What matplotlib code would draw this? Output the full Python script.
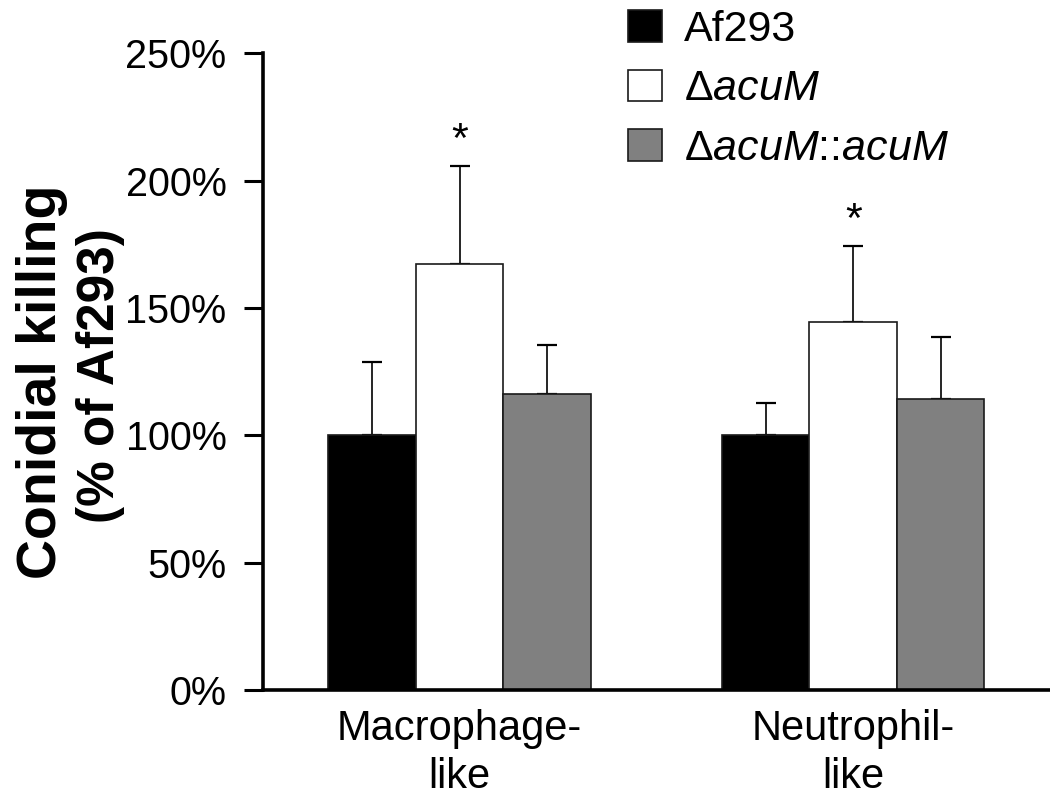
import matplotlib
matplotlib.use("Agg")
import matplotlib.pyplot as plt
import numpy as np

plt.rcParams['font.family'] = ['Liberation Sans', 'DejaVu Sans']
plt.rcParams['mathtext.fontset'] = 'custom'
plt.rcParams['mathtext.rm'] = 'Liberation Sans'
plt.rcParams['mathtext.it'] = 'Liberation Sans:italic'
plt.rcParams['mathtext.bf'] = 'Liberation Sans:bold'

categories = ["Macrophage-\nlike", "Neutrophil-\nlike"]
series_names = ["Af293", r"Δ$\mathit{acuM}$", r"Δ$\mathit{acuM}$::$\mathit{acuM}$"]
af293 = [100.0, 100.0]
af293_err = [28.9, 12.6]
acum = [167.3, 144.5]
acum_err = [38.4, 29.8]
comp = [116.2, 114.3]
comp_err = [19.4, 24.3]
significant = [False, True, False]  # asterisk on ΔacuM series
colors = ["#000000", "#ffffff", "#808080"]
yticks = [0, 50, 100, 150, 200, 250]
ytick_labels = ["0%", "50%", "100%", "150%", "200%", "250%"]

W, H = 1050, 799
fig = plt.figure(figsize=(W / 100, H / 100), dpi=100)
ax = fig.add_axes([262.7 / W, (H - 690) / H, 1 - 262.7 / W, (690 - 53.3) / H])

x = np.arange(len(categories))
bw = 1 / 4.5
vals = [af293, acum, comp]
errs = [af293_err, acum_err, comp_err]
handles = []
for i, (v, e, c) in enumerate(zip(vals, errs, colors)):
    pos = x + (i - 1) * bw
    b = ax.bar(pos, v, width=bw, color=c, edgecolor="#1a1a1a", linewidth=1.2,
               label=series_names[i], zorder=2)
    ax.errorbar(pos, v, yerr=[np.zeros(len(e)), e], fmt="none", ecolor="black",
                elinewidth=1.2, capsize=7, capthick=1.6, zorder=1)
    handles.append(b)
    if significant[i]:
        for p, vv, ee in zip(pos, v, e):
            ax.text(p, vv + ee + 10, "*", ha="center", va="center", fontsize=31)

ax.set_xlim(-0.5, 1.5)
ax.set_ylim(0, 250)
ax.set_yticks(yticks)
ax.set_yticklabels(ytick_labels, fontsize=28.5)
ax.set_xticks(x)
ax.set_xticklabels(categories, fontsize=30, linespacing=1.25)
ax.tick_params(axis="y", direction="out", length=14, width=2.2, pad=12)
ax.tick_params(axis="x", length=0, pad=14)
for s in ["top", "right"]:
    ax.spines[s].set_visible(False)
for s in ["left", "bottom"]:
    ax.spines[s].set_linewidth(2.6)

fig.text(42 / W, 1 - 382 / H, "Conidial killing", rotation=90, ha="center", va="center",
         fontsize=40, fontweight="bold")
fig.text(101 / W, 1 - 376 / H, "(% of Af293)", rotation=90, ha="center", va="center",
         fontsize=37, fontweight="bold")

leg = fig.legend(handles=handles, labels=series_names, loc="upper left",
                 bbox_to_anchor=(628 / W, 1 - 10 / H), frameon=False, fontsize=31,
                 handlelength=0.8, handleheight=0.75, handletextpad=0.5,
                 labelspacing=0.45, borderpad=0, borderaxespad=0)

fig.savefig("out.png", dpi=100)
